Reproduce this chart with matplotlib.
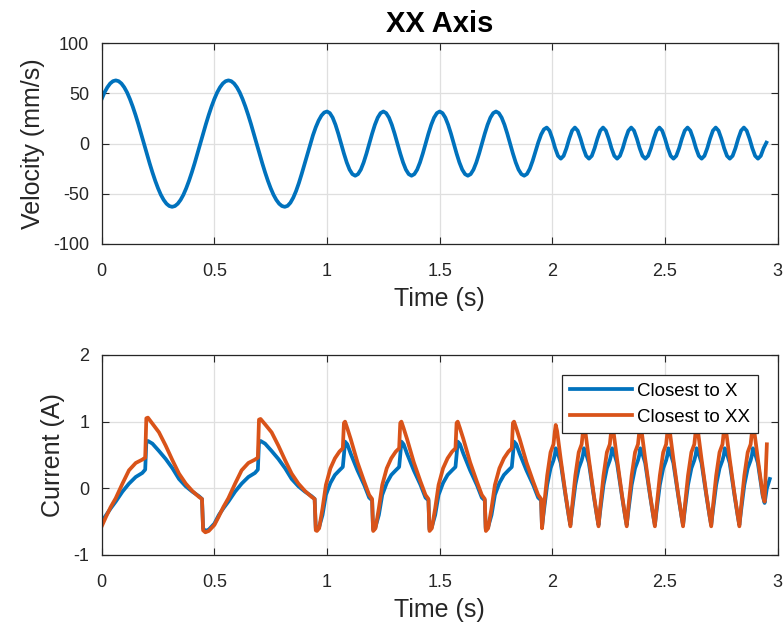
import numpy as np
import matplotlib
matplotlib.use("Agg")
import matplotlib.pyplot as plt
from matplotlib.ticker import FuncFormatter

plt.rcParams['font.family'] = ['Liberation Sans', 'DejaVu Sans']
plt.rcParams['axes.unicode_minus'] = False

# ---------------- data ----------------
title_text = "XX Axis"
xlabel_text = "Time (s)"
ylabel_top = "Velocity (mm/s)"
ylabel_bottom = "Current (A)"
series_names = ["Closest to X", "Closest to XX"]

x_ticks = [0, 0.5, 1, 1.5, 2, 2.5, 3]
vel_ticks = [-100, -50, 0, 50, 100]
cur_ticks = [-1, 0, 1, 2]

vel_dt = 0.0125  # sample step of velocity record (s)
velocity = [
    44.5, 51.0, 56.1, 59.9, 62.2, 63.0, 62.2, 59.9, 56.1, 51.0,
    44.5, 37.0, 28.6, 19.5, 9.9, 0.0, -9.9, -19.5, -28.6, -37.0,
    -44.5, -51.0, -56.1, -59.9, -62.2, -63.0, -62.2, -59.9, -56.1, -51.0,
    -44.5, -37.0, -28.6, -19.5, -9.9, 0.0, 9.9, 19.5, 28.6, 37.0,
    44.5, 51.0, 56.1, 59.9, 62.2, 63.0, 62.2, 59.9, 56.1, 51.0,
    44.5, 37.0, 28.6, 19.5, 9.9, 0.0, -9.9, -19.5, -28.6, -37.0,
    -44.5, -51.0, -56.1, -59.9, -62.2, -63.0,
    -62.0, -58.9, -53.9, -47.3, -39.3, -30.2, -20.5, -10.5, -0.8, 8.3,
    16.3, 22.9, 27.9, 31.0, 32.0,
    30.4, 25.9, 18.8, 9.9, 0.0, -9.9, -18.8, -25.9, -30.4, -32.0,
    -30.4, -25.9, -18.8, -9.9, 0.0, 9.9, 18.8, 25.9, 30.4,
    32.0, 30.4, 25.9, 18.8, 9.9, 0.0, -9.9, -18.8, -25.9, -30.4,
    -32.0, -30.4, -25.9, -18.8, -9.9, 0.0, 9.9, 18.8, 25.9, 30.4,
    32.0, 30.4, 25.9, 18.8, 9.9, 0.0, -9.9, -18.8, -25.9, -30.4,
    -32.0, -30.4, -25.9, -18.8, -9.9, 0.0, 9.9, 18.8, 25.9, 30.4,
    32.0, 30.4, 25.9, 18.8, 9.9, 0.0, -9.9, -18.8, -25.9, -30.4, -32.0,
    -30.2, -25.0, -17.2, -8.0, 1.2, 9.0, 14.2, 16.0,
    12.9, 5.0, -4.6, -12.2, -15.0, -12.2, -4.6, 5.0, 12.9,
    16.0, 12.9, 5.0, -4.6, -12.2, -15.0, -12.2, -4.6, 5.0, 12.9,
    16.0, 12.9, 5.0, -4.6, -12.2, -15.0, -12.2, -4.6, 5.0, 12.9,
    16.0, 12.9, 5.0, -4.6, -12.2, -15.0, -12.2, -4.6, 5.0, 12.9,
    16.0, 12.9, 5.0, -4.6, -12.2, -15.0, -12.2, -4.6, 5.0, 12.9,
    16.0, 12.9, 5.0, -4.6, -12.2, -15.0, -12.2, -4.6, 5.0, 12.9,
    16.0, 12.9, 5.0, -4.6, -12.2, -15.0, -12.2, -4.6, 5.0, 12.9,
    16.0, 12.9, 5.0, -4.6, -12.2, -15.0, -12.2, -4.6, 1.0,
]

t_cur = [
    # slow cycles
    0.000, 0.020, 0.040, 0.062, 0.092, 0.121, 0.151, 0.180, 0.193, 0.198,
    0.205, 0.225, 0.254, 0.284, 0.314, 0.343, 0.373, 0.402, 0.432, 0.445,
    0.450, 0.460, 0.475,
    0.500, 0.520, 0.540, 0.562, 0.592, 0.621, 0.651, 0.680, 0.693, 0.698,
    0.705, 0.725, 0.754, 0.784, 0.814, 0.843, 0.873, 0.902, 0.932, 0.945,
    0.950,
    # medium cycles
    0.955, 0.965, 0.980, 0.995, 1.015, 1.035, 1.055, 1.070, 1.075, 1.080,
    1.090, 1.105, 1.135, 1.165, 1.187, 1.200, 1.204,
    1.205, 1.215, 1.230, 1.245, 1.265, 1.285, 1.305, 1.320, 1.325, 1.330,
    1.340, 1.355, 1.385, 1.415, 1.437, 1.450, 1.454,
    1.455, 1.465, 1.480, 1.495, 1.515, 1.535, 1.555, 1.570, 1.575, 1.580,
    1.590, 1.605, 1.635, 1.665, 1.687, 1.700, 1.704,
    1.705, 1.715, 1.730, 1.745, 1.765, 1.785, 1.805, 1.820, 1.825, 1.830,
    1.840, 1.855, 1.885, 1.915, 1.937, 1.950, 1.954,
    # fast cycles
    1.955, 1.962, 1.977, 1.992, 2.005, 2.011, 2.015, 2.021, 2.037, 2.059, 2.073,
    2.080, 2.087, 2.102, 2.117, 2.130, 2.136, 2.140, 2.146, 2.162, 2.184, 2.198,
    2.205, 2.212, 2.227, 2.242, 2.255, 2.261, 2.265, 2.271, 2.287, 2.309, 2.323,
    2.330, 2.337, 2.352, 2.367, 2.380, 2.386, 2.390, 2.396, 2.412, 2.434, 2.448,
    2.455, 2.462, 2.477, 2.492, 2.505, 2.511, 2.515, 2.521, 2.537, 2.559, 2.573,
    2.580, 2.587, 2.602, 2.617, 2.630, 2.636, 2.640, 2.646, 2.662, 2.684, 2.698,
    2.705, 2.712, 2.727, 2.742, 2.755, 2.761, 2.765, 2.771, 2.787, 2.809, 2.823,
    2.830, 2.837, 2.852, 2.867, 2.880, 2.886, 2.890, 2.896, 2.912, 2.934,
    2.942, 2.952, 2.965,
]

current_x = [
    -0.50, -0.40, -0.30, -0.20, -0.05, 0.07, 0.17, 0.23, 0.28, 0.69,
    0.71, 0.67, 0.56, 0.44, 0.30, 0.14, 0.03, -0.05, -0.12, -0.16,
    -0.60, -0.64, -0.62,
    -0.53, -0.40, -0.30, -0.20, -0.05, 0.07, 0.17, 0.23, 0.28, 0.69,
    0.71, 0.67, 0.56, 0.44, 0.30, 0.14, 0.03, -0.05, -0.12, -0.16,
    -0.60,
    -0.62, -0.58, -0.40, -0.10, 0.08, 0.20, 0.27, 0.32, 0.50, 0.70,
    0.66, 0.52, 0.27, 0.05, -0.14, -0.18, -0.58,
    -0.62, -0.58, -0.40, -0.10, 0.08, 0.20, 0.27, 0.32, 0.50, 0.70,
    0.66, 0.52, 0.27, 0.05, -0.14, -0.18, -0.58,
    -0.62, -0.58, -0.40, -0.10, 0.08, 0.20, 0.27, 0.32, 0.50, 0.70,
    0.66, 0.52, 0.27, 0.05, -0.14, -0.18, -0.58,
    -0.62, -0.58, -0.40, -0.10, 0.08, 0.20, 0.27, 0.32, 0.50, 0.70,
    0.66, 0.52, 0.27, 0.05, -0.14, -0.18, -0.58,
    -0.55, -0.35, 0.05, 0.30, 0.42, 0.50, 0.60, 0.56, 0.38, -0.12, -0.42,
    -0.55, -0.35, 0.05, 0.30, 0.42, 0.50, 0.60, 0.56, 0.38, -0.12, -0.42,
    -0.55, -0.35, 0.05, 0.30, 0.42, 0.50, 0.60, 0.56, 0.38, -0.12, -0.42,
    -0.55, -0.35, 0.05, 0.30, 0.42, 0.50, 0.60, 0.56, 0.38, -0.12, -0.42,
    -0.55, -0.35, 0.05, 0.30, 0.42, 0.50, 0.60, 0.56, 0.38, -0.12, -0.42,
    -0.55, -0.35, 0.05, 0.30, 0.42, 0.50, 0.60, 0.56, 0.38, -0.12, -0.42,
    -0.55, -0.35, 0.05, 0.30, 0.42, 0.50, 0.60, 0.56, 0.38, -0.12, -0.42,
    -0.55, -0.35, 0.05, 0.30, 0.42, 0.50, 0.60, 0.56, 0.38, -0.12,
    -0.22, 0.00, 0.14,
]

current_xx = [
    -0.57, -0.42, -0.28, -0.15, 0.07, 0.27, 0.38, 0.43, 0.46, 1.05,
    1.06, 0.97, 0.84, 0.64, 0.42, 0.22, 0.07, -0.04, -0.13, -0.16,
    -0.63, -0.66, -0.64,
    -0.55, -0.42, -0.28, -0.15, 0.07, 0.27, 0.38, 0.43, 0.46, 1.03,
    1.04, 0.96, 0.84, 0.64, 0.42, 0.22, 0.07, -0.04, -0.13, -0.16,
    -0.63,
    -0.64, -0.60, -0.30, 0.05, 0.30, 0.45, 0.55, 0.60, 0.98, 1.00,
    0.90, 0.74, 0.39, 0.10, -0.10, -0.16, -0.60,
    -0.64, -0.60, -0.30, 0.05, 0.30, 0.45, 0.55, 0.60, 0.98, 1.00,
    0.90, 0.74, 0.39, 0.10, -0.10, -0.16, -0.60,
    -0.64, -0.60, -0.30, 0.05, 0.30, 0.45, 0.55, 0.60, 0.98, 1.00,
    0.90, 0.74, 0.39, 0.10, -0.10, -0.16, -0.60,
    -0.64, -0.60, -0.30, 0.05, 0.30, 0.45, 0.55, 0.60, 0.98, 1.00,
    0.90, 0.74, 0.39, 0.10, -0.10, -0.16, -0.60,
    -0.57, -0.30, 0.19, 0.54, 0.66, 0.85, 0.95, 0.86, 0.44, -0.10, -0.42,
    -0.57, -0.30, 0.19, 0.54, 0.66, 0.85, 0.95, 0.86, 0.44, -0.10, -0.42,
    -0.57, -0.30, 0.19, 0.54, 0.66, 0.85, 0.95, 0.86, 0.44, -0.10, -0.42,
    -0.57, -0.30, 0.19, 0.54, 0.66, 0.85, 0.95, 0.86, 0.44, -0.10, -0.42,
    -0.57, -0.30, 0.19, 0.54, 0.66, 0.85, 0.95, 0.86, 0.44, -0.10, -0.42,
    -0.57, -0.30, 0.19, 0.54, 0.66, 0.85, 0.95, 0.86, 0.44, -0.10, -0.42,
    -0.57, -0.30, 0.19, 0.54, 0.66, 0.85, 0.95, 0.86, 0.44, -0.10, -0.42,
    -0.57, -0.30, 0.19, 0.54, 0.66, 0.85, 0.95, 0.86, 0.44, -0.10,
    -0.20, 0.66, np.nan,
]

# ---------------- plotting ----------------
BLUE = '#0072BD'
ORANGE = '#D95319'
DARK = '#262626'

t_vel = np.arange(len(velocity)) * vel_dt

fig = plt.figure(figsize=(7.83, 6.36), dpi=100)
ax1 = fig.add_axes([0.1299, 0.6164, 0.8633, 0.3156])
ax2 = fig.add_axes([0.1299, 0.1274, 0.8633, 0.3145])

fmt = FuncFormatter(lambda v, p: '%g' % v)


def style(ax, yticks, ylim, ylabel):
    ax.set_xlim(0, 3)
    ax.set_ylim(*ylim)
    ax.set_xticks(x_ticks)
    ax.set_yticks(yticks)
    ax.xaxis.set_major_formatter(fmt)
    ax.yaxis.set_major_formatter(fmt)
    ax.grid(True, color='#dfdfdf', lw=0.9)
    ax.set_axisbelow(True)
    ax.tick_params(direction='in', top=True, right=True, length=5, width=0.8,
                   colors=DARK, labelsize=13)
    ax.tick_params(axis='y', pad=9)
    ax.tick_params(axis='x', pad=14)
    for s in ax.spines.values():
        s.set_color(DARK)
        s.set_linewidth(0.9)
    ax.set_xlabel(xlabel_text, fontsize=18, color=DARK, labelpad=5)
    ax.set_ylabel(ylabel, fontsize=18, color=DARK, labelpad=6)


ax1.plot(t_vel, velocity, color=BLUE, lw=2.7, solid_joinstyle='round')
style(ax1, vel_ticks, (-100, 100), ylabel_top)
ax1.set_title(title_text, fontsize=21, fontweight='bold', color='black', pad=8)

ax2.plot(t_cur, current_x, color=BLUE, lw=2.7, label=series_names[0],
         solid_joinstyle='round')
ax2.plot(t_cur, current_xx, color=ORANGE, lw=2.7, label=series_names[1],
         solid_joinstyle='round')
style(ax2, cur_ticks, (-1, 2), ylabel_bottom)
leg = ax2.legend(loc='upper right', bbox_to_anchor=(0.971, 0.90),
                 borderaxespad=0, fontsize=13.5, frameon=True, fancybox=False,
                 framealpha=1, edgecolor=DARK, handlelength=3.3,
                 handletextpad=0.3, labelspacing=0.45, borderpad=0.42)
leg.get_frame().set_linewidth(0.9)

fig.savefig('out.png', dpi=100)
